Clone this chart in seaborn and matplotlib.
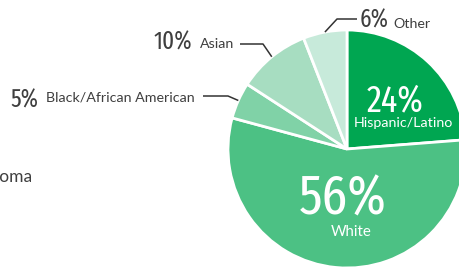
import numpy as np
import matplotlib
matplotlib.use("Agg")
import matplotlib.pyplot as plt
import seaborn as sns

# data
groups = ["Hispanic/Latino", "White", "Black/African American", "Asian", "Other"]
shares = [24, 56, 5, 10, 6]
colors = ["#00a651", "#4cc184", "#80d2a7", "#a7ddc1", "#c7eada"]

W, H = 459, 271
CX, CY, R = 347, 149, 119  # pixel coords, y from top

sns.set_theme(style="white")
plt.rcParams["font.family"] = ["Lato", "DejaVu Sans"]
NUM = ["Fira Sans Extra Condensed", "DejaVu Sans"]
TXT = "#3f3f3f"


def py(y):
    return H - y


fig = plt.figure(figsize=(W / 100, H / 100), dpi=100)
ax = fig.add_axes([0, 0, 1, 1])
wedges, _ = ax.pie(shares, colors=colors, startangle=90, counterclock=False,
                   center=(CX, py(CY)), radius=R,
                   wedgeprops=dict(edgecolor="white", linewidth=2))
ax.set_xlim(0, W)
ax.set_ylim(0, H)
ax.set_aspect("auto")
ax.axis("off")


def edge(w, frac=1.0):
    a = np.deg2rad((w.theta1 + w.theta2) / 2)
    return CX + frac * R * np.cos(a), py(CY) + frac * R * np.sin(a)


# inside labels (baseline positions)
ax.text(395, py(111), f"{shares[0]}%", color="white", fontsize=26.5, family=NUM,
        ha="center", va="baseline")
ax.text(403, py(127), groups[0], color="white", fontsize=10.3, ha="center", va="baseline")
ax.text(343, py(214), f"{shares[1]}%", color="white", fontsize=40, family=NUM,
        ha="center", va="baseline")
ax.text(351, py(236), groups[1], color="white", fontsize=10.8, ha="center", va="baseline")

# outside labels with leader lines:
# (index, pct x, pct baseline, label x, label baseline, line y, line start x, elbow x)
outside = [(2, 10, 108, 46, 102, 96, 203, 228),
           (3, 153, 50, 200, 48, 44, 240, 263),
           (4, 360, 28, 393, 28, 19, 357, 337)]
for i, xp, bp, xl, bl, ly, x0, x1 in outside:
    ax.text(xp, py(bp), f"{shares[i]}%", color=TXT, fontsize=18, family=NUM,
            ha="left", va="baseline")
    ax.text(xl, py(bl), groups[i], color=TXT, fontsize=10.3, ha="left", va="baseline")
    ex, ey = edge(wedges[i], 1.0)
    ax.plot([x0, x1, ex], [py(ly), py(ly), ey], color="#333333", lw=1.1,
            solid_capstyle="butt")

# clipped label from neighbouring panel
ax.text(32, py(182), "Diploma", color=TXT, fontsize=12.5, ha="right", va="baseline")

fig.savefig("out.png", dpi=100)
